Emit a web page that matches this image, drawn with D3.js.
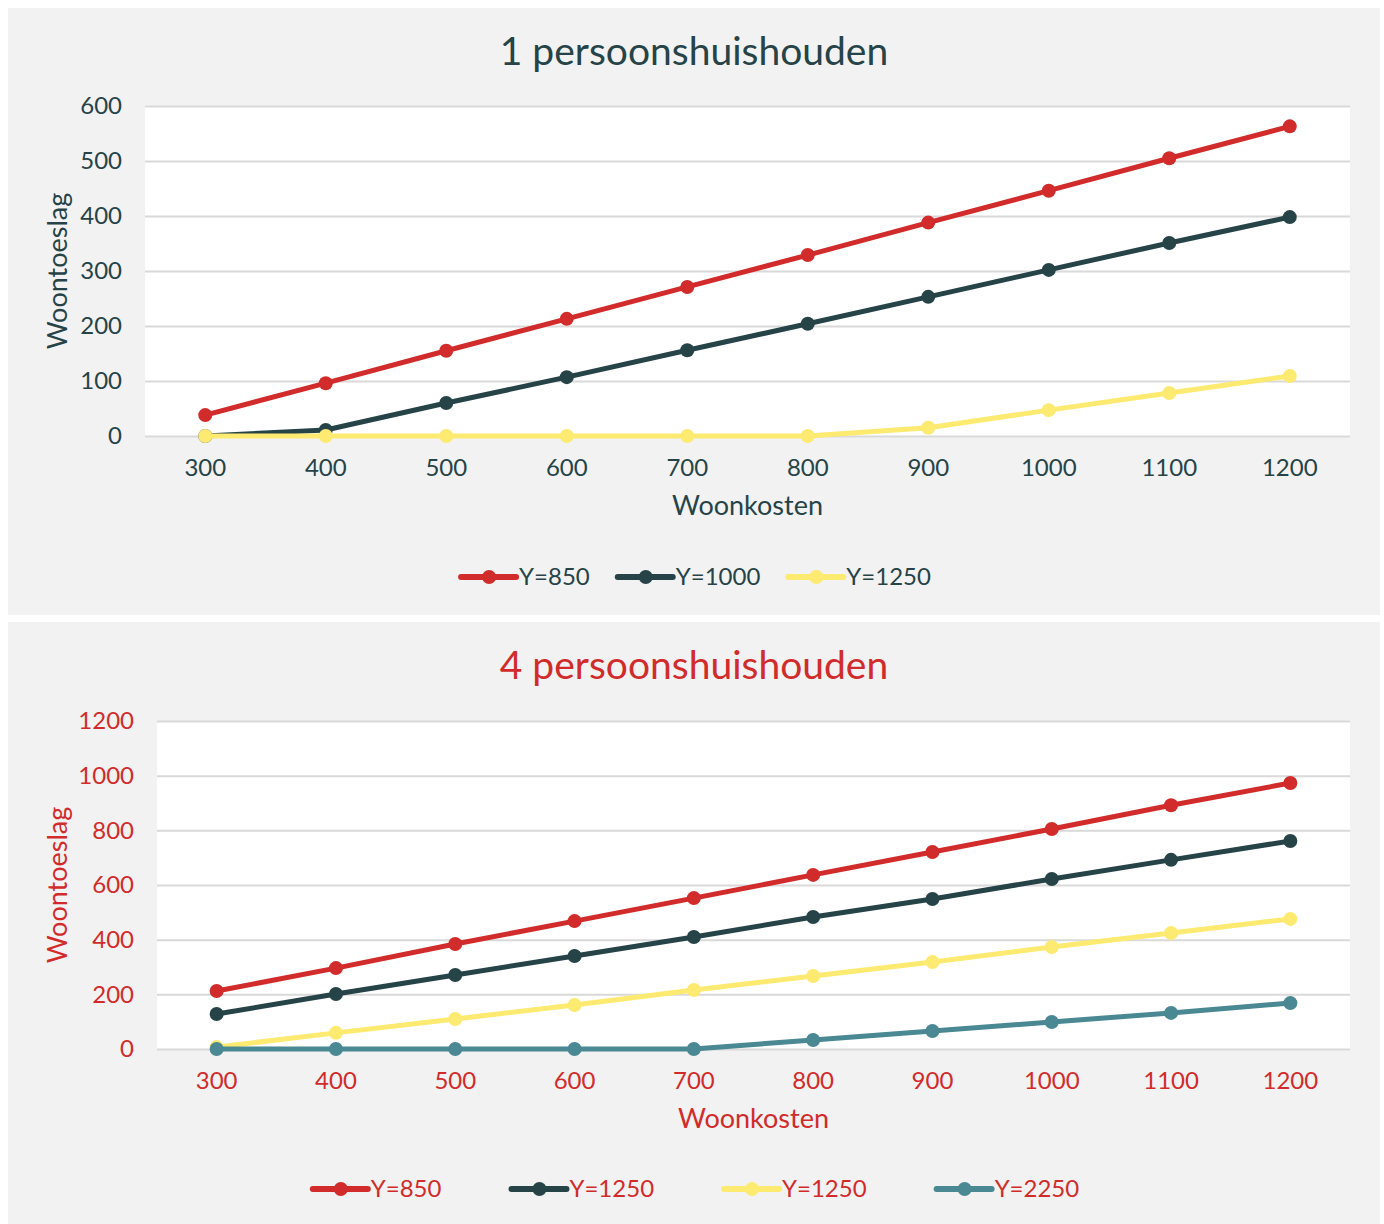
<!DOCTYPE html>
<html>
<head>
<meta charset="utf-8">
<script src="https://cdn.jsdelivr.net/npm/d3@7"></script>
<style>
  body { margin: 0; background: #ffffff; }
  svg { display: block; font-family: Lato, "Open Sans", sans-serif; }
</style>
</head>
<body>
<div id="chart"></div>
<script>
// Woonkosten on the x axis, same for both charts
const woonkosten = [300, 400, 500, 600, 700, 800, 900, 1000, 1100, 1200];

// 1 persoonshuishouden
const oneLabels = ["Y=850", "Y=1000", "Y=1250"];
const oneY850  = [38, 96, 155, 213, 271, 329, 388, 446, 505, 563];
const oneY1000 = [0, 11, 60, 107, 156, 204, 253, 302, 351, 398];
const oneY1250 = [0, 0, 0, 0, 0, 0, 15, 47, 78, 109];
const oneTicks = [0, 100, 200, 300, 400, 500, 600];

// 4 persoonshuishouden
const fourLabels = ["Y=850", "Y=1250", "Y=1250", "Y=2250"];
const fourY850  = [212, 296, 384, 468, 552, 637, 721, 805, 892, 973];
const fourY1250 = [128, 201, 271, 340, 410, 483, 549, 622, 692, 761];
const fourY1250b = [7, 59, 110, 161, 216, 267, 318, 373, 424, 476];
const fourY2250 = [0, 0, 0, 0, 0, 33, 66, 99, 132, 168];
const fourTicks = [0, 200, 400, 600, 800, 1000, 1200];

const RED = "#d22b2b", DARK = "#264348", YELLOW = "#fdea71", TEAL = "#4a8893";

const W = 1384, H = 1224;
const svg = d3.select("#chart").append("svg")
    .attr("width", W).attr("height", H);

function drawChart(cfg) {
    const g = svg.append("g");
    // panel background
    g.append("rect")
        .attr("x", 8).attr("y", cfg.top)
        .attr("width", 1372).attr("height", cfg.height)
        .attr("fill", "#f2f2f2");

    const x = d3.scaleBand()
        .domain(woonkosten)
        .range([cfg.left, 1350]);
    const y = d3.scaleLinear()
        .domain([0, d3.max(cfg.ticks)])
        .range([cfg.bottom, cfg.plotTop]);

    // plot area
    g.append("rect")
        .attr("x", cfg.left).attr("y", cfg.plotTop)
        .attr("width", 1350 - cfg.left).attr("height", cfg.bottom - cfg.plotTop)
        .attr("fill", "#ffffff");

    // gridlines + y labels
    const yAxis = g.append("g")
        .attr("transform", `translate(${cfg.left},0)`)
        .call(d3.axisLeft(y).tickValues(cfg.ticks).tickFormat(d3.format("d"))
            .tickSize(-(1350 - cfg.left)).tickPadding(23).tickSizeOuter(0));
    yAxis.select(".domain").remove();
    yAxis.selectAll(".tick line").attr("stroke", "#d9d9d9").attr("stroke-width", 2);
    yAxis.selectAll(".tick text")
        .attr("fill", cfg.textColor).style("font-size", "24px").style("font-family", "Lato");

    const xAxis = g.append("g")
        .attr("transform", `translate(0,${cfg.bottom})`)
        .call(d3.axisBottom(x).tickSize(0).tickPadding(23));
    xAxis.select(".domain").remove();
    xAxis.selectAll(".tick text")
        .attr("fill", cfg.textColor).style("font-size", "24px").style("font-family", "Lato");

    // titles
    g.append("text")
        .attr("x", 694).attr("y", cfg.top + 57)
        .attr("text-anchor", "middle")
        .attr("fill", cfg.textColor)
        .style("font-size", "39px")
        .text(cfg.title);

    g.append("text")
        .attr("x", (cfg.left + 1350) / 2).attr("y", cfg.bottom + 79)
        .attr("text-anchor", "middle")
        .attr("fill", cfg.textColor)
        .style("font-size", "27px")
        .text("Woonkosten");

    g.append("text")
        .attr("transform", `translate(67,${(cfg.bottom + cfg.plotTop) / 2}) rotate(-90)`)
        .attr("text-anchor", "middle")
        .attr("fill", cfg.textColor)
        .style("font-size", "27px")
        .text("Woontoeslag");

    const line = d3.line()
        .x((d, i) => x(woonkosten[i]) + x.bandwidth() / 2)
        .y(d => y(d));

    cfg.series.forEach(s => {
        g.append("path")
            .datum(s.values)
            .attr("fill", "none")
            .attr("stroke", s.color)
            .attr("stroke-width", 5)
            .attr("stroke-linejoin", "round")
            .attr("d", line);
        g.selectAll(null)
            .data(s.values)
            .enter().append("circle")
            .attr("cx", (d, i) => x(woonkosten[i]) + x.bandwidth() / 2)
            .attr("cy", d => y(d))
            .attr("r", 7)
            .attr("fill", s.color);
    });

    // legend
    const leg = g.append("g");
    let lx = 0;
    cfg.series.forEach(s => {
        const item = leg.append("g").attr("transform", `translate(${lx},0)`);
        item.append("line")
            .attr("x1", 0).attr("x2", 55)
            .attr("stroke", s.color).attr("stroke-width", 6)
            .attr("stroke-linecap", "round");
        item.append("circle").attr("cx", 28).attr("r", 7).attr("fill", s.color);
        const t = item.append("text")
            .attr("x", 58).attr("dy", "0.35em")
            .attr("fill", cfg.textColor)
            .style("font-size", "24px")
            .text(s.label);
        lx += 58 + t.node().getComputedTextLength() + cfg.legendGap;
    });
    const legW = lx - cfg.legendGap;
    leg.attr("transform", `translate(${696 - legW / 2},${cfg.legendY})`);
}

drawChart({
    title: "1 persoonshuishouden",
    textColor: DARK,
    top: 8, height: 607,
    left: 145, plotTop: 106, bottom: 436,
    ticks: oneTicks,
    legendY: 577, legendGap: 28,
    series: [
        { label: oneLabels[0], values: oneY850, color: RED },
        { label: oneLabels[1], values: oneY1000, color: DARK },
        { label: oneLabels[2], values: oneY1250, color: YELLOW }
    ]
});

drawChart({
    title: "4 persoonshuishouden",
    textColor: RED,
    top: 622, height: 602,
    left: 157, plotTop: 721, bottom: 1049,
    ticks: fourTicks,
    legendY: 1189, legendGap: 70,
    series: [
        { label: fourLabels[0], values: fourY850, color: RED },
        { label: fourLabels[1], values: fourY1250, color: DARK },
        { label: fourLabels[2], values: fourY1250b, color: YELLOW },
        { label: fourLabels[3], values: fourY2250, color: TEAL }
    ]
});
</script>
</body>
</html>
